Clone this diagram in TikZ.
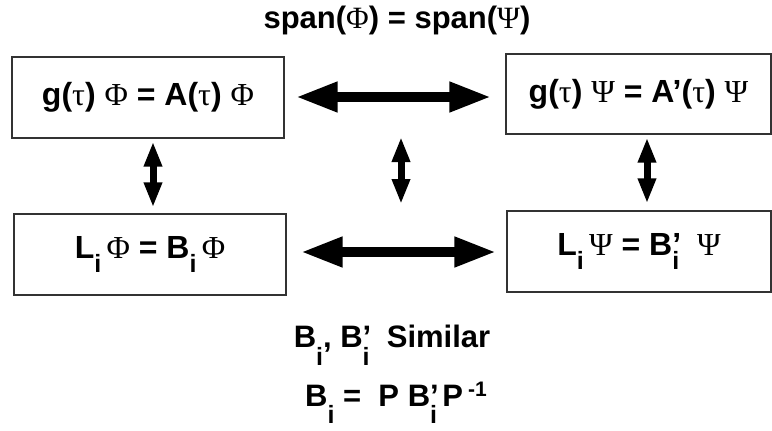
\documentclass[tikz,border=0pt]{standalone}
\usepackage{fontspec}
\setmainfont{Liberation Sans}
\newfontfamily\grfont{Liberation Serif}
\usetikzlibrary{arrows.meta}
\newcommand\G[1]{{\grfont\mdseries #1}}
\newcommand\sbi[1][14pt]{\raisebox{-#1}{\fontsize{25}{25}\selectfont i}}
\tikzset{
  eqbox/.style={draw=black!80, line width=1.3pt, inner sep=0pt, font=\fontsize{32}{35}\selectfont\bfseries},
  harrow/.style={line width=10pt, {Triangle[length=42pt,width=28pt]}-{Triangle[length=42pt,width=28pt]}},
  varrow/.style={line width=7pt, {Triangle[length=25pt,width=17pt]}-{Triangle[length=25pt,width=17pt]}},
  bigtxt/.style={font=\fontsize{31}{34}\selectfont\bfseries, inner sep=0pt, anchor=base}
}
\begin{document}
\begin{tikzpicture}[x=1pt,y=-1pt]
\useasboundingbox (0,0) rectangle (772,431);
\node[font=\fontsize{31}{34}\selectfont\bfseries, inner sep=0pt, anchor=base] (title) at (397,28) {span(\G{Φ}) = span(\G{Ψ})};
\node[eqbox, minimum width=272pt, minimum height=81pt] (b1) at (148,97.5) {g(\G{τ}) \G{Φ} = A(\G{τ}) \G{Φ}};
\node[eqbox, minimum width=265pt, minimum height=80pt] (b2) at (638.5,94) {g(\G{τ}) \G{Ψ} = A’(\G{τ}) \G{Ψ}};
\node[eqbox, minimum width=272pt, minimum height=81pt] (b3) at (150,254.5) {L\sbi\,\G{Φ} = B\sbi\,\G{Φ}};
\node[eqbox, minimum width=264pt, minimum height=81pt] (b4) at (639,251.5) {L\sbi\,\G{Ψ} = B\rlap{’}\sbi\ \ \G{Ψ}};
\coordinate (mtop) at (401,137);
\coordinate (mbot) at (401,204);
\draw[harrow] ([xshift=11pt]b1.east |- 0,97) -- ([xshift=-14pt]b2.west |- 0,97);
\draw[harrow] ([xshift=14pt]b3.east |- 0,252) -- ([xshift=-10pt]b4.west |- 0,252);
\draw[varrow] ([yshift=-3pt]b1.south -| 153,0) -- ([yshift=6pt]b3.north -| 153,0);
\draw[varrow] (mtop) -- (mbot);
\draw[varrow] ([yshift=-3pt]b2.south -| 647,0) -- ([yshift=7pt]b4.north -| 647,0);
\node[bigtxt] (sim) at (392,347) {B\sbi[18pt], B\rlap{’}\sbi[18pt]\ \ Similar};
\node[bigtxt] (rel) at (396,406) {B\sbi[17pt] =\ \ P B\rlap{’}\sbi[17pt]\,P\,\raisebox{10pt}{\fontsize{21}{21}\selectfont -1}};
\end{tikzpicture}
\end{document}
